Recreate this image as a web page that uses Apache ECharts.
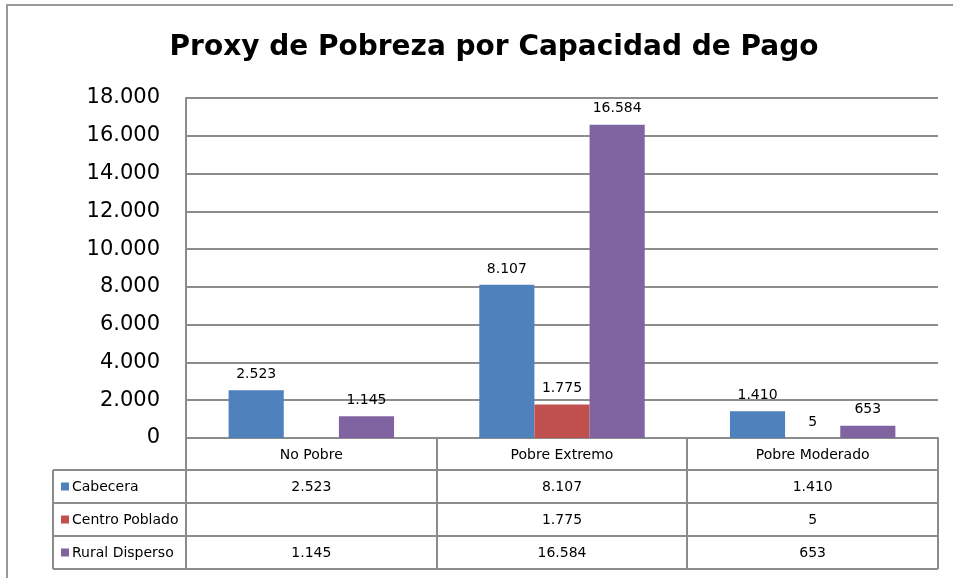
<!DOCTYPE html>
<html>
<head>
<meta charset="utf-8">
<title>Proxy de Pobreza por Capacidad de Pago</title>
<script src="https://cdn.jsdelivr.net/npm/echarts@6/dist/echarts.min.js"></script>
<style>
    html, body { margin: 0; padding: 0; background: #fff; }
    #chart { width: 953px; height: 578px; }
</style>
</head>
<body>
<div id="chart"></div>
<script>
// Data
const categories = ['No Pobre', 'Pobre Extremo', 'Pobre Moderado'];
const seriesNames = ['Cabecera', 'Centro Poblado', 'Rural Disperso'];
const cabecera = [2523, 8107, 1410];
const centroPoblado = [null, 1775, 5];
const ruralDisperso = [1145, 16584, 653];
const seriesColors = ['#4F81BD', '#C0504D', '#8064A2'];
const yTicks = [0, 2000, 4000, 6000, 8000, 10000, 12000, 14000, 16000, 18000];

const FONT = 'DejaVu Sans, Verdana, sans-serif';
const LINE = '#8c8c8c';

// Layout of plot area + data table
const plotLeft = 186;
const plotRight = 938;
const plotTop = 98;
const plotBottom = 438;
const tableLeft = 53;
const headerH = 32;
const rowH = 33;

/**
 * Format number with dot as thousands separator
 */
function fmt(v) {
    if (v === null || v === undefined) return '';
    return String(v).replace(/\B(?=(\d{3})+(?!\d))/g, '.');
}

/**
 * Build data table under the plot (header row + one row per series)
 */
function buildTable() {
    const values = [cabecera, centroPoblado, ruralDisperso];
    const colW = (plotRight - plotLeft) / categories.length;
    const els = [];
    const line = (x1, y1, x2, y2) => els.push({
        type: 'line',
        shape: { x1, y1, x2, y2 },
        style: { stroke: LINE, lineWidth: 2 },
        silent: true
    });
    const text = (x, y, str, align) => els.push({
        type: 'text',
        x, y,
        style: {
            text: str,
            font: '14px ' + FONT,
            fill: '#000',
            align: align || 'center',
            verticalAlign: 'middle'
        },
        silent: true
    });

    const headerBottom = plotBottom + headerH;
    const tableBottom = headerBottom + rowH * seriesNames.length;

    // column separators
    for (let i = 0; i <= categories.length; i++) {
        const x = Math.round(plotLeft + colW * i);
        line(x, plotBottom, x, tableBottom);
    }
    line(tableLeft, headerBottom, tableLeft, tableBottom);

    // horizontal lines
    for (let r = 0; r <= seriesNames.length; r++) {
        const y = headerBottom + rowH * r;
        line(tableLeft, y, plotRight, y);
    }

    // header
    categories.forEach((c, i) => {
        text(plotLeft + colW * (i + 0.5), plotBottom + headerH / 2 + 1, c);
    });

    // rows
    seriesNames.forEach((name, r) => {
        const cy = headerBottom + rowH * (r + 0.5) + 1;
        els.push({
            type: 'rect',
            shape: { x: tableLeft + 8, y: cy - 5, width: 8, height: 8 },
            style: { fill: seriesColors[r] },
            silent: true
        });
        text(tableLeft + 19, cy, name, 'left');
        values[r].forEach((v, i) => {
            text(plotLeft + colW * (i + 0.5), cy, fmt(v));
        });
    });

    // outer chart border
    els.push({
        type: 'polyline',
        shape: { points: [[7, 578], [7, 5], [953, 5]] },
        style: { stroke: '#999', lineWidth: 2, fill: null },
        silent: true
    });

    return els;
}

function makeSeries(name, data, color) {
    return {
        name: name,
        type: 'bar',
        data: data,
        barGap: '0%',
        barCategoryGap: '34%',
        itemStyle: { color: color },
        label: {
            show: true,
            position: 'top',
            distance: 9,
            fontFamily: FONT,
            fontSize: 14,
            color: '#000',
            formatter: (p) => fmt(p.value)
        }
    };
}

const chart = echarts.init(document.getElementById('chart'));

chart.setOption({
    animation: false,
    backgroundColor: '#fff',
    title: {
        text: 'Proxy de Pobreza por Capacidad de Pago',
        left: 489,
        top: 29,
        textAlign: 'center',
        textStyle: {
            fontFamily: FONT,
            fontWeight: 'bold',
            fontSize: 28,
            color: '#000'
        }
    },
    grid: {
        left: plotLeft,
        right: 953 - plotRight,
        top: plotTop,
        bottom: 578 - plotBottom
    },
    xAxis: {
        type: 'category',
        data: categories,
        axisLine: { lineStyle: { color: LINE, width: 2 } },
        axisTick: { show: false },
        axisLabel: { show: false }
    },
    yAxis: {
        type: 'value',
        min: yTicks[0],
        max: yTicks[yTicks.length - 1],
        interval: yTicks[1] - yTicks[0],
        axisLine: { show: true, lineStyle: { color: LINE, width: 2 } },
        axisTick: { show: false },
        splitLine: { lineStyle: { color: LINE, width: 2 } },
        axisLabel: {
            margin: 26,
            fontFamily: FONT,
            fontSize: 21,
            color: '#000',
            formatter: (v) => fmt(v)
        }
    },
    series: [
        makeSeries(seriesNames[0], cabecera, seriesColors[0]),
        makeSeries(seriesNames[1], centroPoblado, seriesColors[1]),
        makeSeries(seriesNames[2], ruralDisperso, seriesColors[2])
    ],
    graphic: buildTable()
});
</script>
</body>
</html>
